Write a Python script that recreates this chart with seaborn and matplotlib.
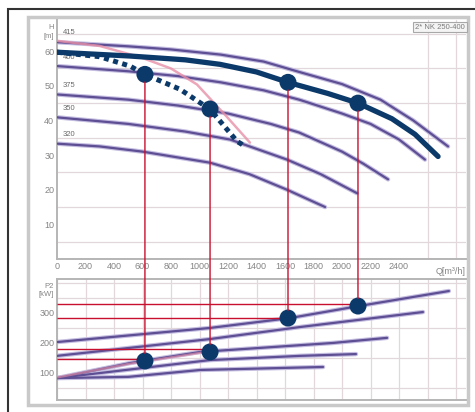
import matplotlib
matplotlib.use("Agg")
import matplotlib.pyplot as plt
import seaborn as sns
from matplotlib.patches import Rectangle, ConnectionPatch

# pump head curves per impeller diameter (Q in m3/h, H in m)
q_415 = [0, 500, 800, 1150, 1450, 1700, 2000, 2270, 2500, 2744]
h_415 = [62.6, 61.4, 60.5, 59.0, 57.0, 54.0, 50.5, 46.0, 40.0, 32.5]
q_400 = [0, 500, 850, 1150, 1450, 1700, 2000, 2200, 2400, 2582]
h_400 = [55.7, 54.2, 52.8, 51.0, 48.7, 46.0, 42.0, 39.0, 34.5, 28.7]
q_375 = [0, 500, 850, 1200, 1500, 1700, 2000, 2150, 2323]
h_375 = [47.5, 46.0, 44.3, 42.0, 39.0, 36.5, 31.0, 27.5, 23.0]
q_350 = [0, 500, 900, 1214, 1614, 1850, 2105]
h_350 = [40.9, 39.0, 36.8, 34.5, 28.7, 24.5, 19.0]
q_320 = [0, 300, 600, 1074, 1350, 1614, 1881]
h_320 = [33.3, 32.5, 31.0, 27.8, 24.5, 20.0, 15.0]
diam_labels = ["415", "400", "375", "350", "320"]
label_h = [64.3, 57.2, 49.0, 42.3, 34.8]

# system curves
q_solid = [0, 512, 900, 1144, 1400, 1621, 1900, 2112, 2350, 2512, 2674]
h_solid = [59.7, 58.6, 57.5, 56.2, 54.0, 51.0, 47.8, 45.0, 40.5, 36.0, 29.6]
q_dotted = [0, 300, 512, 617, 863, 1074, 1263, 1320]
h_dotted = [59.7, 58.4, 55.7, 53.3, 49.0, 43.2, 34.0, 32.5]
q_pink = [0, 300, 582, 800, 982, 1193, 1354]
h_pink = [63.0, 61.5, 58.3, 55.0, 50.4, 41.0, 33.6]

# power curves (P2 in kW)
p_q_415 = [0, 1074, 1635, 2119, 2750]
p_415 = [203, 250, 283, 323, 373]
p_q_400 = [0, 1074, 1705, 2568]
p_400 = [157, 213, 253, 303]
p_q_375 = [0, 512, 1004, 1937, 2316]
p_375 = [83, 133, 170, 200, 217]
p_q_350 = [0, 1074, 1705, 2098]
p_350 = [83, 143, 157, 163]
p_q_320 = [0, 500, 1004, 1867]
p_320 = [83, 87, 110, 120]
p_q_pink = [0, 500, 1074]
p_pink = [85, 130, 172]

# duty points
duty_q = [617, 1074, 1621, 2112]
duty_h = [53.3, 43.3, 51.0, 45.0]
duty_p = [140, 170, 283, 323]
ref_p = [147, 180, 283, 330]

x_ticks = [0, 200, 400, 600, 800, 1000, 1200, 1400, 1600, 1800, 2000, 2200, 2400]

sns.set_style("white")
plt.rcParams['font.family'] = ['Liberation Sans', 'DejaVu Sans']

navy = "#0b3a6a"
purple = "#5e4e94"
halo = "#c4bde0"
red = "#c8102e"
pink = "#e890a8"
gridc = "#e2d8db"
tick_c = "#858585"

fig = plt.figure(figsize=(4.75, 4.12), dpi=100)
W, H = 475, 412

# outer frame and grey panel
fig.add_artist(Rectangle((8 / W, -0.1), 1.5, 1 - 9 / H + 0.1, transform=fig.transFigure,
                         fill=False, edgecolor="#333333", lw=1.5, zorder=-3))
fig.add_artist(Rectangle((28 / W, 1 - 405 / H), 440 / W, 388 / H, transform=fig.transFigure,
                         facecolor="white", edgecolor="#c9c9c9", lw=2.5, zorder=-2))

ax1 = fig.add_axes([57 / W, 1 - 259 / H, 409 / W, 239 / H])
ax2 = fig.add_axes([57 / W, 1 - 400 / H, 409 / W, 121 / H])

for ax in (ax1, ax2):
    ax.set_facecolor("none")
    ax.set_xlim(0, 2870)
    ax.set_xticks(range(0, 2801, 200), minor=True)
    ax.grid(which="minor", axis="x", color=gridc, lw=0.9)
    ax.tick_params(length=0, labelsize=6.5, labelcolor=tick_c, pad=2)
    for s in ax.spines.values():
        s.set_color("#b5b5b5")
        s.set_linewidth(1.4)
    ax.spines["right"].set_visible(False)

# ---- head chart
ax1.set_ylim(0, 69)
ax1.set_yticks(range(0, 70, 5), minor=True)
ax1.grid(which="minor", axis="y", color=gridc, lw=0.9)
ax1.set_yticks([10, 20, 30, 40, 50, 60])
ax1.set_xticks(x_ticks)
ax1.spines["top"].set_visible(False)

curves = [(q_415, h_415), (q_400, h_400), (q_375, h_375), (q_350, h_350), (q_320, h_320)]
for (qq, hh), lab, ly in zip(curves, diam_labels, label_h):
    sns.lineplot(x=qq, y=hh, ax=ax1, color=halo, lw=3.2, zorder=2)
    sns.lineplot(x=qq, y=hh, ax=ax1, color=purple, lw=1.6, zorder=3)
    ax1.text(40, ly, lab, fontsize=5.5, color="#6a6a6a", va="bottom", ha="left", zorder=4)

sns.lineplot(x=q_pink, y=h_pink, ax=ax1, color=pink, lw=1.8, alpha=0.8, zorder=3)
sns.lineplot(x=q_solid, y=h_solid, ax=ax1, color=navy, lw=3.8, zorder=5)
sns.lineplot(x=q_dotted, y=h_dotted, ax=ax1, color=navy, lw=3.6,
             linestyle=(0, (1, 0.9)), zorder=5)
sns.scatterplot(x=duty_q, y=duty_h, ax=ax1, color=navy, s=150, edgecolor="none", zorder=7)

ax1.text(-0.008, 0.985, "H\n[m]", transform=ax1.transAxes, ha="right", va="top",
         fontsize=5.5, color=tick_c, linespacing=1.5)
ax1.text(2760, -2.2, "Q[m³/h]", ha="center", va="top", fontsize=6.5, color=tick_c, clip_on=False)
ax1.text(0.997, 0.985, "2* NK 250-400", transform=ax1.transAxes, ha="right", va="top",
         fontsize=5.5, color="#7a7a7a",
         bbox=dict(boxstyle="square,pad=0.25", facecolor="#f4f4f4", edgecolor="#a8a8a8", lw=0.8))

# ---- power chart
ax2.set_ylim(10, 413)
ax2.set_yticks(range(50, 401, 50), minor=True)
ax2.grid(which="minor", axis="y", color=gridc, lw=0.9)
ax2.set_yticks([100, 200, 300])
ax2.set_xticks([])

pcurves = [(p_q_415, p_415), (p_q_400, p_400), (p_q_375, p_375), (p_q_350, p_350), (p_q_320, p_320)]
for qq, pp in pcurves:
    sns.lineplot(x=qq, y=pp, ax=ax2, color=halo, lw=3.2, zorder=2)
    sns.lineplot(x=qq, y=pp, ax=ax2, color=purple, lw=1.6, zorder=3)
sns.lineplot(x=p_q_pink, y=p_pink, ax=ax2, color=pink, lw=1.6, alpha=0.6, zorder=3)

ax2.hlines(ref_p, 0, duty_q, color=red, lw=1.0, zorder=4)
sns.scatterplot(x=duty_q, y=duty_p, ax=ax2, color=navy, s=150, edgecolor="none", zorder=7)

ax2.text(-0.008, 0.97, "P2\n[kW]", transform=ax2.transAxes, ha="right", va="top",
         fontsize=5.5, color=tick_c, linespacing=1.3)

# vertical red drop lines from head to power
for q, h, p in zip(duty_q, duty_h, duty_p):
    con = ConnectionPatch(xyA=(q, h), coordsA=ax1.transData, xyB=(q, p), coordsB=ax2.transData,
                          color=red, lw=1.0, shrinkA=5.5, shrinkB=5.5, zorder=6)
    fig.add_artist(con)

for ax in (ax1, ax2):
    if ax.get_legend():
        ax.get_legend().remove()

fig.savefig("out.png", dpi=100)
